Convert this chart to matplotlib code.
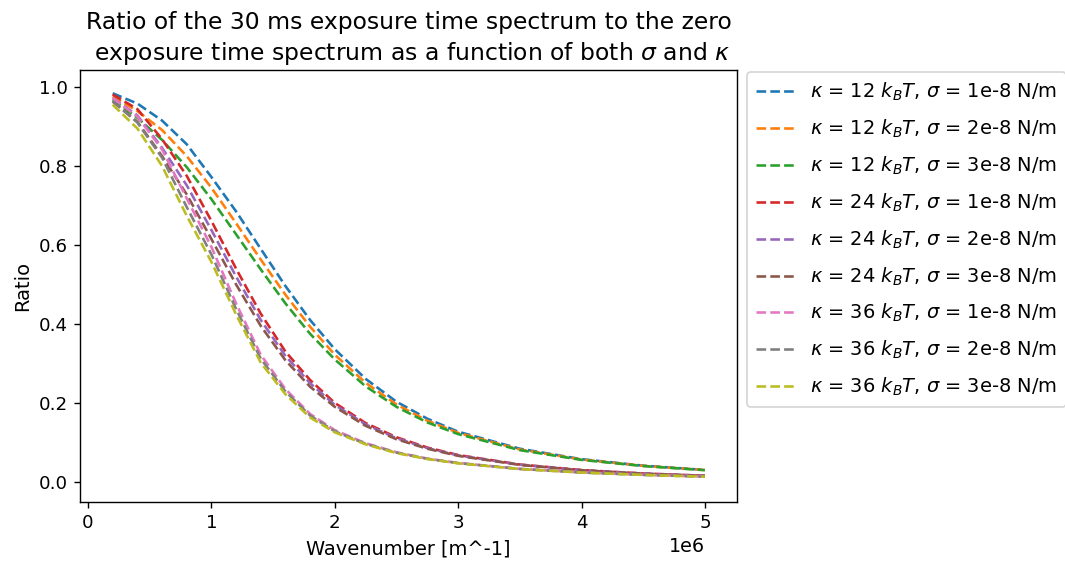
import matplotlib.pyplot as plt

# wavenumber grid [m^-1]
wavenumber = [0.2e6, 0.4e6, 0.6e6, 0.8e6, 1.0e6, 1.2e6, 1.4e6, 1.6e6, 1.8e6,
              2.0e6, 2.25e6, 2.5e6, 2.75e6, 3.0e6, 3.5e6, 4.0e6, 4.5e6, 5.0e6]

# kappa = 12 kBT
k12_s1 = [0.984, 0.958, 0.915, 0.855, 0.772, 0.685, 0.590, 0.496, 0.410,
          0.336, 0.261, 0.203, 0.160, 0.127, 0.084, 0.0575, 0.0411, 0.0303]
k12_s2 = [0.976, 0.939, 0.891, 0.825, 0.745, 0.655, 0.563, 0.474, 0.393,
          0.322, 0.251, 0.196, 0.155, 0.124, 0.082, 0.0566, 0.0406, 0.0300]
k12_s3 = [0.967, 0.922, 0.866, 0.797, 0.716, 0.627, 0.538, 0.452, 0.375,
          0.310, 0.242, 0.190, 0.1505, 0.121, 0.0804, 0.0557, 0.0401, 0.0297]
# kappa = 24 kBT
k24_s1 = [0.981, 0.944, 0.868, 0.775, 0.661, 0.540, 0.426, 0.330, 0.258,
          0.200, 0.149, 0.113, 0.087, 0.068, 0.044, 0.0300, 0.0213, 0.0156]
k24_s2 = [0.972, 0.928, 0.846, 0.751, 0.638, 0.520, 0.410, 0.319, 0.250,
          0.195, 0.1455, 0.1105, 0.0855, 0.067, 0.0435, 0.0296, 0.0210, 0.0154]
k24_s3 = [0.963, 0.912, 0.825, 0.728, 0.615, 0.500, 0.395, 0.308, 0.241,
          0.190, 0.142, 0.108, 0.084, 0.066, 0.043, 0.0293, 0.0208, 0.0153]
# kappa = 36 kBT
k36_s1 = [0.972, 0.925, 0.842, 0.718, 0.595, 0.452, 0.322, 0.235, 0.172,
          0.131, 0.098, 0.075, 0.059, 0.048, 0.033, 0.0240, 0.0180, 0.0135]
k36_s2 = [0.964, 0.910, 0.821, 0.696, 0.576, 0.438, 0.312, 0.229, 0.168,
          0.128, 0.0965, 0.074, 0.0585, 0.0475, 0.0328, 0.0238, 0.0178, 0.0133]
k36_s3 = [0.955, 0.895, 0.800, 0.674, 0.557, 0.424, 0.302, 0.222, 0.163,
          0.1255, 0.095, 0.073, 0.058, 0.047, 0.0325, 0.0236, 0.0176, 0.0131]

kappas = [12, 12, 12, 24, 24, 24, 36, 36, 36]
sigmas = ['1e-8', '2e-8', '3e-8'] * 3
ratios = [k12_s1, k12_s2, k12_s3, k24_s1, k24_s2, k24_s3, k36_s1, k36_s2, k36_s3]

fig = plt.figure(figsize=(8.52, 4.504), dpi=125)
ax = fig.add_axes([0.0751, 0.1083, 0.6169, 0.7674])

for kappa, sigma, ratio in zip(kappas, sigmas, ratios):
    ax.plot(wavenumber, ratio, '--',
            label=r'$\kappa$ = %d $k_BT$, $\sigma$ = %s N/m' % (kappa, sigma))

ax.set_xlim(-0.065e6, 5.26e6)
ax.set_ylim(-0.051, 1.043)
ax.tick_params(labelsize=10.5)
ax.xaxis.get_offset_text().set_fontsize(11)
ax.xaxis.get_offset_text().set_x(0.952)
ax.set_xlabel('Wavenumber [m^-1]', fontsize=11.2)
ax.set_ylabel('Ratio', fontsize=11.2)
ax.set_title('Ratio of the 30 ms exposure time spectrum to the zero\n'
             ' exposure time spectrum as a function of both $\\sigma$ and $\\kappa$',
             fontsize=13.5, linespacing=1.3)
ax.legend(loc='upper left', bbox_to_anchor=(1.015, 0.995), borderaxespad=0,
          fontsize=11.2, labelspacing=0.75, borderpad=0.45, handletextpad=0.8)

fig.savefig('out.png', dpi=125)
